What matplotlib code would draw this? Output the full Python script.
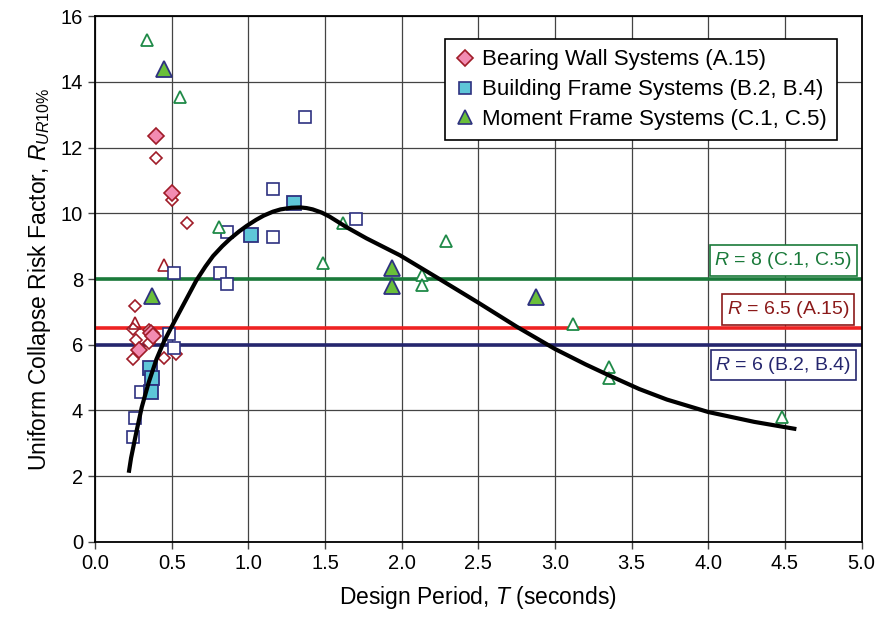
import matplotlib.pyplot as plt
from matplotlib.lines import Line2D

plt.rcParams['font.family'] = ['Liberation Sans', 'DejaVu Sans']
plt.rcParams['mathtext.fontset'] = 'custom'
plt.rcParams['mathtext.rm'] = 'Liberation Sans'
plt.rcParams['mathtext.it'] = 'Liberation Sans:italic'

# --- Data ---
# Bearing wall systems (A.15)
bw_mean_T = [0.40, 0.50, 0.365, 0.375, 0.29]
bw_mean_R = [12.34, 10.61, 6.35, 6.25, 5.84]
bw_T = [0.40, 0.50, 0.60, 0.26, 0.25, 0.27, 0.35, 0.35, 0.25, 0.45, 0.53]
bw_R = [11.70, 10.40, 9.70, 7.17, 6.47, 6.14, 6.44, 6.05, 5.56, 5.59, 5.71]
bw_tri_T = [0.45, 0.26]
bw_tri_R = [8.42, 6.65]

# Building frame systems (B.2, B.4)
bf_mean_T = [1.30, 1.02, 0.36, 0.37, 0.365]
bf_mean_R = [10.30, 9.33, 5.29, 5.00, 4.56]
bf_T = [1.37, 1.16, 1.16, 1.70, 0.86, 0.815, 0.86, 0.515, 0.48, 0.515, 0.30, 0.26, 0.25]
bf_R = [12.92, 10.73, 9.27, 9.82, 9.42, 8.18, 7.84, 8.18, 6.33, 5.90, 4.56, 3.77, 3.19]

# Moment frame systems (C.1, C.5)
mf_mean_T = [0.45, 0.37, 1.94, 1.94, 2.875]
mf_mean_R = [14.40, 7.48, 8.33, 7.78, 7.45]
mf_T = [0.34, 0.555, 0.81, 1.49, 1.62, 2.13, 2.13, 2.29, 3.12, 3.35, 3.35, 4.48]
mf_R = [15.29, 13.53, 9.57, 8.48, 9.70, 8.12, 7.81, 9.15, 6.63, 5.32, 4.98, 3.80]

# Fitted trend curve
curve_T = [0.22, 0.235, 0.27, 0.305, 0.35, 0.40, 0.45, 0.50, 0.58, 0.66, 0.72, 0.77,
           0.83, 0.88, 0.94, 0.99, 1.05, 1.10, 1.16, 1.21, 1.28, 1.34, 1.38, 1.42,
           1.48, 1.53, 1.64, 1.77, 1.99, 2.25, 2.50, 2.75, 3.00, 3.20, 3.36, 3.55,
           3.73, 4.00, 4.30, 4.575]
curve_R = [2.10, 2.55, 3.35, 4.10, 4.85, 5.55, 6.10, 6.55, 7.25, 7.95, 8.38, 8.70,
           9.00, 9.22, 9.45, 9.62, 9.80, 9.93, 10.05, 10.12, 10.17, 10.18, 10.16, 10.12,
           10.02, 9.90, 9.58, 9.24, 8.72, 7.99, 7.28, 6.55, 5.87, 5.40, 5.05, 4.65,
           4.33, 3.95, 3.65, 3.43]

# Response modification factors
r_values = [8.0, 6.5, 6.0]
r_labels = ['$R$ = 8 (C.1, C.5)', '$R$ = 6.5 (A.15)', '$R$ = 6 (B.2, B.4)']
r_line_colors = ['#1a7a3a', '#ee2222', '#25266e']
r_text_colors = ['#1a7a3a', '#8b1a1a', '#25266e']
r_label_T = [4.49, 4.52, 4.49]
r_label_R = [8.56, 7.08, 5.38]

# --- Plot ---
fig = plt.figure(figsize=(8.8, 6.27), dpi=100)
ax = fig.add_axes([0.108, 0.136, 0.871, 0.838])

red = '#a01c28'
pink = '#f28cb2'
navy = '#2e3180'
cyan = '#5ec6d8'
green = '#1f8a48'
lgreen = '#6abf3a'

for r, c in zip(r_values, r_line_colors):
    ax.axhline(r, color=c, linewidth=2.6, zorder=2)

ax.plot(bw_T, bw_R, linestyle='none', marker='D', markersize=6.5,
        markerfacecolor='white', markeredgecolor=red, markeredgewidth=1.2, zorder=3)
ax.plot(bw_tri_T, bw_tri_R, linestyle='none', marker='^', markersize=8,
        markerfacecolor='none', markeredgecolor=red, markeredgewidth=1.2, zorder=3)
ax.plot(bf_T, bf_R, linestyle='none', marker='s', markersize=8,
        markerfacecolor='white', markeredgecolor=navy, markeredgewidth=1.2, zorder=3)
ax.plot(mf_T, mf_R, linestyle='none', marker='^', markersize=8.5,
        markerfacecolor='white', markeredgecolor=green, markeredgewidth=1.3, zorder=3)

ax.plot(bw_mean_T, bw_mean_R, linestyle='none', marker='D', markersize=8.5,
        markerfacecolor=pink, markeredgecolor=red, markeredgewidth=1.2, zorder=4)
ax.plot(bf_mean_T, bf_mean_R, linestyle='none', marker='s', markersize=9.5,
        markerfacecolor=cyan, markeredgecolor=navy, markeredgewidth=1.3, zorder=4)
ax.plot(mf_mean_T, mf_mean_R, linestyle='none', marker='^', markersize=11,
        markerfacecolor=lgreen, markeredgecolor=navy, markeredgewidth=1.3, zorder=4)

ax.plot(curve_T, curve_R, color='black', linewidth=3, solid_joinstyle='round',
        solid_capstyle='butt', zorder=5)

for t, y, s, c in zip(r_label_T, r_label_R, r_labels, r_text_colors):
    ax.text(t, y, s, color=c, fontsize=14, ha='center', va='center', zorder=6,
            bbox=dict(boxstyle='square,pad=0.25', facecolor='white', edgecolor=c, linewidth=1.2))

ax.set_xlim(0, 5)
ax.set_ylim(0, 16)
ax.set_xticks([0.0, 0.5, 1.0, 1.5, 2.0, 2.5, 3.0, 3.5, 4.0, 4.5, 5.0])
ax.set_xticklabels(['0.0', '0.5', '1.0', '1.5', '2.0', '2.5', '3.0', '3.5', '4.0', '4.5', '5.0'])
ax.set_yticks(range(0, 17, 2))
ax.tick_params(axis='both', labelsize=14.5, direction='out', length=5, width=1, color='#444444')
ax.grid(True, color='#444444', linewidth=0.9)
ax.set_axisbelow(True)
for sp in ax.spines.values():
    sp.set_linewidth(1.3)
    sp.set_color('black')

ax.set_xlabel('Design Period, $T$ (seconds)', fontsize=16.5, labelpad=8)
ax.set_ylabel('Uniform Collapse Risk Factor, $R_{UR10\\%}$', fontsize=16.5, labelpad=6)

handles = [
    Line2D([], [], linestyle='none', marker='D', markersize=8, markerfacecolor=pink,
           markeredgecolor=red, markeredgewidth=1.2),
    Line2D([], [], linestyle='none', marker='s', markersize=9, markerfacecolor=cyan,
           markeredgecolor=navy, markeredgewidth=1.2),
    Line2D([], [], linestyle='none', marker='^', markersize=10, markerfacecolor=lgreen,
           markeredgecolor=navy, markeredgewidth=1.2),
]
leg = ax.legend(handles, ['Bearing Wall Systems (A.15)', 'Building Frame Systems (B.2, B.4)',
                          'Moment Frame Systems (C.1, C.5)'],
                loc='upper right', bbox_to_anchor=(0.982, 0.977), fontsize=16,
                fancybox=False, framealpha=1, edgecolor='black', handlelength=0.9,
                handletextpad=0.3, borderpad=0.45, labelspacing=0.4)
leg.get_frame().set_linewidth(1.2)
leg.set_zorder(7)

plt.savefig('out.png', dpi=100)
